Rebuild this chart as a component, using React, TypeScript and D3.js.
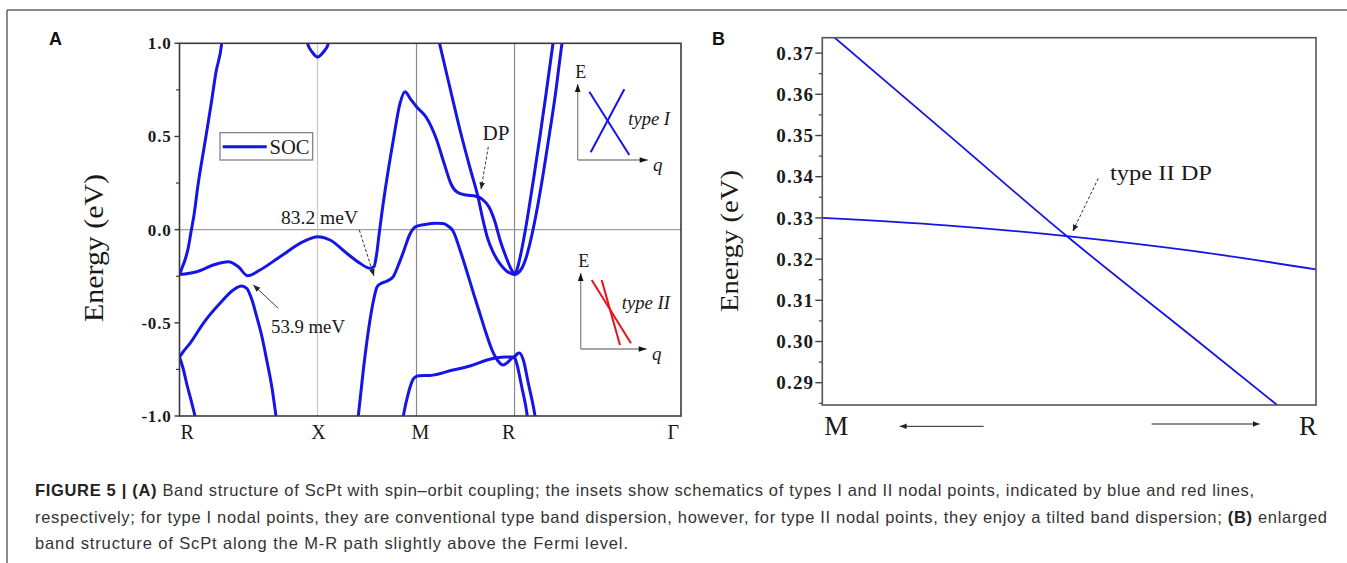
import React from 'react';
import * as d3 from 'd3';

type P = [number, number];

// ---------- Panel A: band structure (k-path coordinate, energy in eV) ----------
const kPoints = [0, 0.708, 1.216, 1.719, 2.573];
const kLabels = ['R', 'X', 'M', 'R', 'Γ'];
const yTicksA = [-1.0, -0.5, 0.0, 0.5, 1.0];
const yMinorA = [-0.75, -0.25, 0.25, 0.75];

const band1: P[] = [[0, -0.2407], [0.0128, -0.2058], [0.0282, -0.1629], [0.0436, -0.1038], [0.059, -0.0126], [0.0744, 0.0786], [0.0949, 0.2396], [0.1154, 0.3737], [0.136, 0.5025], [0.1616, 0.6689], [0.1873, 0.846], [0.2165, 1.0], [0.2232, 1.0713]];
const band2: P[] = [[0, -0.2407], [0.0883, -0.2256], [0.1734, -0.1897], [0.2504, -0.172], [0.3017, -0.1988], [0.3499, -0.2471], [0.413, -0.2165], [0.5157, -0.1452], [0.6352, -0.0647], [0.7081, -0.0378], [0.7722, -0.0555], [0.8579, -0.1269], [0.9261, -0.1806], [0.9774, -0.2074], [0.998, -0.1988], [1.0108, -0.136], [1.0236, -0.0287], [1.039, 0.0947], [1.0631, 0.2664], [1.097, 0.4811], [1.1314, 0.678], [1.157, 0.7402], [1.1827, 0.7048], [1.216, 0.6598], [1.2648, 0.6045], [1.3161, 0.4918], [1.3571, 0.3576], [1.3931, 0.245], [1.4238, 0.202], [1.47, 0.1859], [1.5162, 0.1806], [1.5521, 0.1645], [1.588, 0.1215], [1.6188, 0.041], [1.6445, -0.0555], [1.6753, -0.1468], [1.7009, -0.2112], [1.7189, -0.2407]];
const band3: P[] = [[1.3186, 1.0713], [1.3341, 1.0], [1.3879, 0.7601], [1.4392, 0.5347], [1.4905, 0.3308], [1.5316, 0.1752], [1.5547, 0.0625], [1.5803, -0.0448], [1.6086, -0.1199], [1.6445, -0.1843], [1.6804, -0.2246], [1.7189, -0.2407]];
const bandRInner: P[] = [[1.7189, -0.2407], [1.7291, -0.2219], [1.7419, -0.1736], [1.7574, -0.0985], [1.7727, -0.0126], [1.7932, 0.1162], [1.8189, 0.2879], [1.8497, 0.5025], [1.8805, 0.7279], [1.9164, 1.0], [1.9267, 1.0713]];
const bandROuter: P[] = [[1.7189, -0.2407], [1.7368, -0.2326], [1.7574, -0.2058], [1.7779, -0.1521], [1.7984, -0.0716], [1.824, 0.0518], [1.8548, 0.2289], [1.8908, 0.465], [1.9267, 0.7118], [1.9626, 1.0], [1.9728, 1.0713]];
const band4: P[] = [[0.6439, 1.0713], [0.6567, 1.0], [0.6824, 0.9506], [0.7081, 0.9264], [0.7363, 0.9506], [0.7645, 1.0], [0.7773, 1.0713]];
const band5: P[] = [[0.9056, -1.1019], [0.9174, -1.0], [0.9431, -0.7531], [0.9774, -0.4848], [0.998, -0.3668], [1.0134, -0.3077], [1.0339, -0.289], [1.0596, -0.2782], [1.0955, -0.2541], [1.1211, -0.1951], [1.1468, -0.1253], [1.1827, -0.0233], [1.2119, 0.0158], [1.2596, 0.0276], [1.3197, 0.0341], [1.352, 0.033], [1.3776, 0.0196], [1.4033, -0.0072], [1.4392, -0.1092], [1.4751, -0.2273], [1.5111, -0.3507], [1.5419, -0.4526], [1.5726, -0.5546], [1.6034, -0.6458], [1.6342, -0.7048], [1.6599, -0.7263], [1.6855, -0.7102], [1.706, -0.6887], [1.7189, -0.6834]];
const band6: P[] = [[1.1365, -1.0751], [1.1483, -1.0], [1.174, -0.8782], [1.1965, -0.8068], [1.2119, -0.7891], [1.23, -0.784], [1.2853, -0.7826], [1.4033, -0.7531], [1.4905, -0.7317], [1.5778, -0.6995], [1.6291, -0.6871], [1.6701, -0.6834], [1.7189, -0.6834]];
const bandRLowA: P[] = [[1.7189, -0.6834], [1.7317, -0.6673], [1.7435, -0.6619], [1.764, -0.6995], [1.7897, -0.8245], [1.824, -1.0], [1.8343, -1.0751]];
const bandRLowB: P[] = [[1.7189, -0.6834], [1.7301, -0.7172], [1.7558, -0.8428], [1.7845, -1.0], [1.7932, -1.0751]];
const band7: P[] = [[0, -0.6834], [0.018, -0.6565], [0.0539, -0.6099], [0.1221, -0.5025], [0.2078, -0.3952], [0.276, -0.3238], [0.3191, -0.3024], [0.3448, -0.3147], [0.372, -0.3775], [0.3961, -0.4671], [0.4233, -0.576], [0.4474, -0.6995], [0.4746, -0.8497], [0.4951, -1.0], [0.5054, -1.0751]];
const band8: P[] = [[0, -0.6834], [0.018, -0.7424], [0.0385, -0.8337], [0.059, -0.9141], [0.0795, -1.0], [0.0949, -1.0751]];

const bandsA: P[][] = [band1, band2, band3, bandRInner, bandROuter, band4, band5, band6, bandRLowA, bandRLowB, band7, band8];

// ---------- Panel B: zoom along M-R ----------
const yTicksB = [0.29, 0.30, 0.31, 0.32, 0.33, 0.34, 0.35, 0.36, 0.37];
const yMinorB = [0.285, 0.295, 0.305, 0.315, 0.325, 0.335, 0.345, 0.355, 0.365];
const lineB1: P[] = [[0, 0.3763], [0.25, 0.3507], [0.495, 0.3256], [0.75, 0.3011], [1, 0.277]];
const lineB2: P[] = [[0, 0.33], [0.25, 0.3282], [0.495, 0.3256], [0.75, 0.322], [1, 0.3175]];

// ---------- Inset schematics (unit box) ----------
const insetTypeI: P[][] = [[[0.166, 0.899], [0.737, 0.066]], [[0.666, 0.93], [0.186, 0.101]]];
const insetTypeII: P[][] = [[[0.167, 0.908], [0.762, 0.075]], [[0.318, 0.908], [0.595, 0.053]]];

const captionLines = [
  ['FIGURE 5 | (A)', ' Band structure of ScPt with spin–orbit coupling; the insets show schematics of types I and II nodal points, indicated by blue and red lines,', ''],
  ['', 'respectively; for type I nodal points, they are conventional type band dispersion, however, for type II nodal points, they enjoy a tilted band dispersion; ', '(B)', ' enlarged'],
  ['', 'band structure of ScPt along the M-R path slightly above the Fermi level.'],
];

const SERIF = "'Liberation Serif', 'Times New Roman', serif";
const SANS = "'Liberation Sans', Arial, Helvetica, sans-serif";
const BLUE = '#1515e6';

export default function App() {
  const xA = d3.scaleLinear().domain([0, 2.573]).range([179.5, 681]);
  const yA = d3.scaleLinear().domain([-1, 1]).range([416, 43.3]);
  const lineA = d3.line<P>().x(d => xA(d[0])).y(d => yA(d[1])).curve(d3.curveMonotoneX);

  const xB = d3.scaleLinear().domain([0, 1]).range([822.3, 1316]);
  const yB = d3.scaleLinear().domain([0.28459, 0.37374]).range([405, 37.7]);
  const lineB = d3.line<P>().x(d => xB(d[0])).y(d => yB(d[1])).curve(d3.curveMonotoneX);

  const insets = [
    { ox: 577.7, oy: 160, w: 70, h: 76, data: insetTypeI, color: BLUE, label: 'type I', lx: 628.3, ly: 125 },
    { ox: 580.7, oy: 349, w: 66, h: 76, data: insetTypeII, color: '#e8121b', label: 'type II', lx: 621.7, ly: 309 },
  ];

  const kLabelDx = [1, 1, 4, -6, -2];
  const kAnchor = ['start', 'middle', 'middle', 'middle', 'end'];
  const gridColor = ['none', '#c8c8c8', '#8a8a8a', '#8a8a8a', 'none'];

  const fmtA = (t: number) => t.toFixed(1);
  const fmtB = (t: number) => t.toFixed(2);

  return (
    <svg width={1347} height={563} style={{ position: 'absolute', left: 0, top: 0, background: '#fff' }} fontFamily={SERIF}>
      <defs>
        <clipPath id="clipA"><rect x={xA(0)} y={yA(1)} width={xA(2.573) - xA(0)} height={yA(-1) - yA(1)} /></clipPath>
        <clipPath id="clipB"><rect x={xB(0)} y={yB(0.37374)} width={xB(1) - xB(0)} height={yB(0.28459) - yB(0.37374)} /></clipPath>
        <marker id="ah" viewBox="0 0 10 10" refX="10" refY="5" markerWidth="7" markerHeight="7" markerUnits="userSpaceOnUse" orient="auto">
          <path d="M0,1 L10,5 L0,9 z" fill="#222" />
        </marker>
        <marker id="ahBig" viewBox="0 0 10 10" refX="10" refY="5" markerWidth="9" markerHeight="8" markerUnits="userSpaceOnUse" orient="auto">
          <path d="M0,1.5 L10,5 L0,8.5 z" fill="#111" />
        </marker>
      </defs>

      {/* outer figure frame */}
      <line x1={7} y1={10} x2={1347} y2={10} stroke="#666" strokeWidth={1.5} />
      <line x1={7} y1={10} x2={7} y2={563} stroke="#666" strokeWidth={1.5} />

      {/* ===== Panel A ===== */}
      <text x={49} y={45} fontFamily={SANS} fontWeight="bold" fontSize={18} fill="#111">A</text>

      {/* grid lines */}
      <line x1={xA(0)} x2={xA(2.573)} y1={yA(0)} y2={yA(0)} stroke="#a0a0a0" strokeWidth={1.2} />
      {kPoints.map((k, i) => gridColor[i] !== 'none' && (
        <line key={'g' + i} x1={xA(k)} x2={xA(k)} y1={yA(1)} y2={yA(-1)} stroke={gridColor[i]} strokeWidth={1.2} />
      ))}

      {/* bands */}
      <g clipPath="url(#clipA)">
        {bandsA.map((b, i) => (
          <path key={'b' + i} d={lineA(b) || ''} fill="none" stroke={BLUE} strokeWidth={3} strokeLinejoin="round" strokeLinecap="round" />
        ))}
      </g>

      {/* axes box */}
      <rect x={xA(0)} y={yA(1)} width={xA(2.573) - xA(0)} height={yA(-1) - yA(1)} fill="none" stroke="#3a3a3a" strokeWidth={1.6} />
      {yTicksA.map(t => (
        <g key={'ta' + t}>
          <line x1={xA(0) - 5} x2={xA(0)} y1={yA(t)} y2={yA(t)} stroke="#3a3a3a" strokeWidth={1.4} />
          <text x={xA(0) - 8} y={yA(t)} dy="0.35em" textAnchor="end" fontSize={17} fontWeight="bold" fill="#1a1a1a" letterSpacing={0.8}>{fmtA(t)}</text>
        </g>
      ))}
      {yMinorA.map(t => (
        <line key={'ma' + t} x1={xA(0) - 3.5} x2={xA(0)} y1={yA(t)} y2={yA(t)} stroke="#3a3a3a" strokeWidth={1.2} />
      ))}
      {kPoints.map((k, i) => (
        <text key={'kl' + i} x={xA(k) + kLabelDx[i]} y={439} textAnchor={kAnchor[i] as any} fontSize={20} fill="#1a1a1a">{kLabels[i]}</text>
      ))}
      <text transform="translate(103,248) rotate(-90)" textAnchor="middle" fontSize={27} fill="#1a1a1a" textLength={148} lengthAdjust="spacingAndGlyphs">Energy (eV)</text>

      {/* legend */}
      <rect x={220} y={132.7} width={92.7} height={27.3} fill="#fff" stroke="#7a7a7a" strokeWidth={1.2} />
      <line x1={222.7} x2={266.7} y1={146.7} y2={146.7} stroke={BLUE} strokeWidth={3} />
      <text x={269.5} y={154} fontSize={20} fill="#1a1a1a" textLength={40} lengthAdjust="spacingAndGlyphs">SOC</text>

      {/* annotations */}
      <text x={xA(0.7183)} y={yA(0.0303)} textAnchor="middle" fontSize={19} fill="#1a1a1a" textLength={77} lengthAdjust="spacingAndGlyphs">83.2 meV</text>
      <line x1={xA(0.9226)} y1={yA(-0.0019)} x2={xA(0.998)} y2={yA(-0.2487)} stroke="#333" strokeWidth={1} strokeDasharray="3,2" markerEnd="url(#ah)" />
      <text x={xA(0.6593)} y={yA(-0.5546)} textAnchor="middle" fontSize={19} fill="#1a1a1a" textLength={74} lengthAdjust="spacingAndGlyphs">53.9 meV</text>
      <line x1={xA(0.5069)} y1={yA(-0.4221)} x2={xA(0.3787)} y2={yA(-0.297)} stroke="#444" strokeWidth={1} markerEnd="url(#ah)" />
      <text x={xA(1.6239)} y={yA(0.4811)} textAnchor="middle" fontSize={20} fill="#1a1a1a" textLength={27} lengthAdjust="spacingAndGlyphs">DP</text>
      <line x1={xA(1.5844)} y1={yA(0.4451)} x2={xA(1.547)} y2={yA(0.2165)} stroke="#333" strokeWidth={1} strokeDasharray="3,2" markerEnd="url(#ah)" />

      {/* insets */}
      {insets.map((ins, i) => {
        const sx = d3.scaleLinear().domain([0, 1]).range([ins.ox, ins.ox + ins.w]);
        const sy = d3.scaleLinear().domain([0, 1]).range([ins.oy, ins.oy - ins.h]);
        const ln = d3.line<P>().x(d => sx(d[0])).y(d => sy(d[1]));
        return (
          <g key={'in' + i}>
            <line x1={sx(0)} y1={sy(0)} x2={sx(0)} y2={sy(1)} stroke="#8a8a8a" strokeWidth={1.3} markerEnd="url(#ahBig)" />
            <line x1={sx(0)} y1={sy(0)} x2={sx(1)} y2={sy(0)} stroke="#8a8a8a" strokeWidth={1.3} markerEnd="url(#ahBig)" />
            {ins.data.map((seg, j) => (
              <path key={j} d={ln(seg) || ''} stroke={ins.color} strokeWidth={2} fill="none" />
            ))}
            <text x={sx(0) + 3} y={sy(1) - 6} textAnchor="middle" fontSize={18} fill="#1a1a1a">E</text>
            <text x={sx(1) + 10} y={sy(0) + 11} textAnchor="middle" fontSize={19} fontStyle="italic" fill="#1a1a1a">q</text>
            <text x={ins.lx} y={ins.ly} fontSize={18} fontStyle="italic" fill="#1a1a1a" textLength={i === 0 ? 41.7 : 48.3} lengthAdjust="spacingAndGlyphs">{ins.label}</text>
          </g>
        );
      })}

      {/* ===== Panel B ===== */}
      <text x={712} y={45} fontFamily={SANS} fontWeight="bold" fontSize={18} fill="#111">B</text>
      <g clipPath="url(#clipB)">
        <path d={lineB(lineB1) || ''} fill="none" stroke={BLUE} strokeWidth={1.8} />
        <path d={lineB(lineB2) || ''} fill="none" stroke={BLUE} strokeWidth={1.8} />
      </g>
      <rect x={xB(0)} y={yB(0.37374)} width={xB(1) - xB(0)} height={yB(0.28459) - yB(0.37374)} fill="none" stroke="#555" strokeWidth={1.6} />
      {yTicksB.map(t => (
        <g key={'tb' + t}>
          <line x1={xB(0) - 7} x2={xB(0)} y1={yB(t)} y2={yB(t)} stroke="#444" strokeWidth={1.4} />
          <text x={xB(0) - 8} y={yB(t)} dy="0.35em" textAnchor="end" fontSize={19} fontWeight="bold" fill="#1a1a1a" letterSpacing={1.2}>{fmtB(t)}</text>
        </g>
      ))}
      {yMinorB.map(t => (
        <line key={'mb' + t} x1={xB(0) - 3.5} x2={xB(0)} y1={yB(t)} y2={yB(t)} stroke="#444" strokeWidth={1.2} />
      ))}
      <text transform="translate(738,241) rotate(-90)" textAnchor="middle" fontSize={25} fill="#1a1a1a" textLength={142} lengthAdjust="spacingAndGlyphs">Energy (eV)</text>
      <text x={xB(0) + 2} y={435} fontSize={27} fill="#1a1a1a">M</text>
      <text x={xB(1) + 1} y={435} fontSize={27} textAnchor="end" fill="#1a1a1a">R</text>
      <line x1={xB(0.3268)} x2={xB(0.1566)} y1={426.3} y2={426.3} stroke="#222" strokeWidth={1} markerEnd="url(#ah)" />
      <line x1={xB(0.667)} x2={xB(0.8857)} y1={424} y2={424} stroke="#222" strokeWidth={1} markerEnd="url(#ah)" />
      <text x={xB(0.5827)} y={yB(0.3392)} fontSize={21} fill="#1a1a1a" textLength={102} lengthAdjust="spacingAndGlyphs">type II DP</text>
      <line x1={xB(0.559)} y1={yB(0.3396)} x2={xB(0.5072)} y2={yB(0.3267)} stroke="#333" strokeWidth={1} strokeDasharray="3,2" markerEnd="url(#ah)" />

      {/* caption */}
      {captionLines.map((ln, i) => {
        const lens = [1219, 1292, 593];
        return (
          <text key={'c' + i} x={35} y={[496, 522.5, 549][i]} fontFamily={SANS} fontSize={16.5} fill="#333" textLength={lens[i]} lengthAdjust="spacing">
            {i === 0 && <><tspan fontWeight="bold" fill="#222">{ln[0]}</tspan><tspan>{ln[1]}</tspan></>}
            {i === 1 && <><tspan>{ln[1]}</tspan><tspan fontWeight="bold" fill="#222">{ln[2]}</tspan><tspan>{ln[3]}</tspan></>}
            {i === 2 && <tspan>{ln[1]}</tspan>}
          </text>
        );
      })}
    </svg>
  );
}
